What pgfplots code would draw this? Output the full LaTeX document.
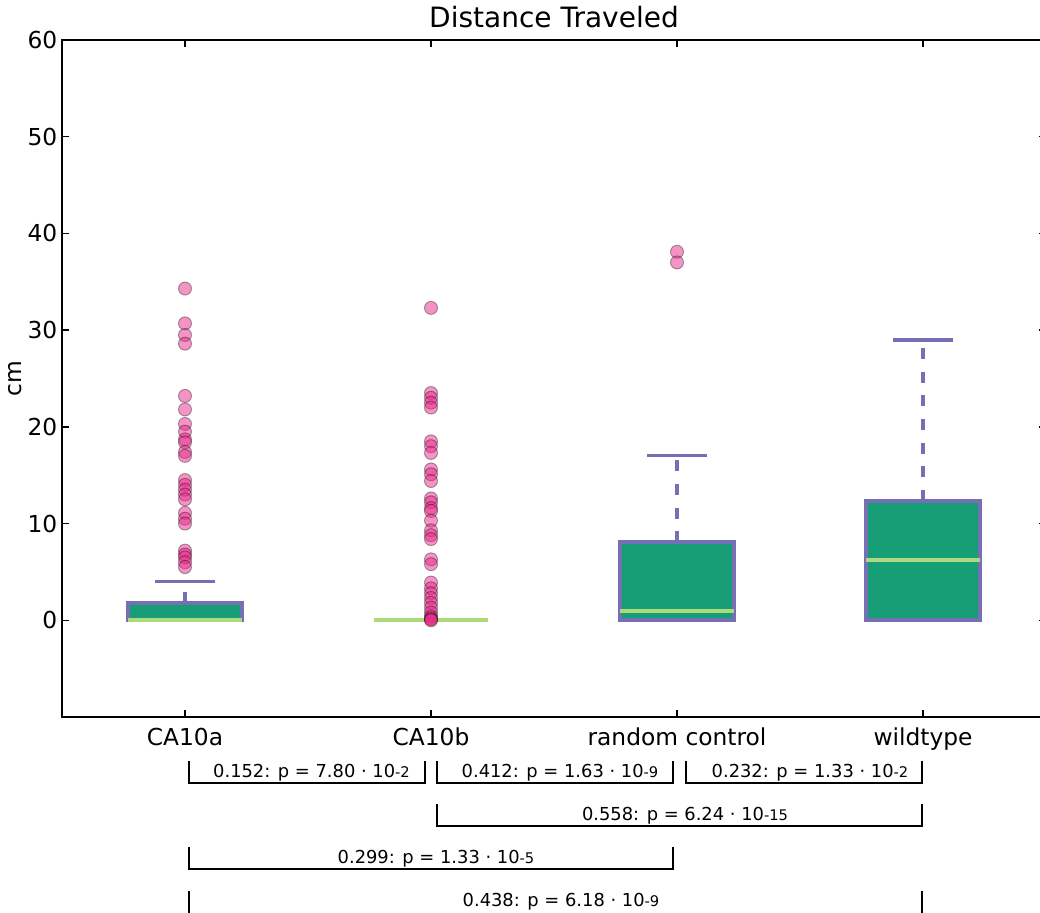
\documentclass[border=0pt]{standalone}
\usepackage{fontspec}
\setmainfont{DejaVu Sans}
\usepackage{pgfplots}
\pgfplotsset{compat=1.18}
\usepgfplotslibrary{statistics}
\definecolor{bgreen}{RGB}{24,158,119}
\definecolor{bpurple}{RGB}{117,112,179}
\definecolor{lgreen}{RGB}{172,218,125}
\definecolor{opink}{RGB}{231,41,138}

\pgfplotsset{
  mybox/.style={
    boxplot/draw direction=y,
    boxplot/box extend=0.46,
    boxplot/whisker extend=0.24,
    boxplot/every box/.style={draw=bpurple, fill=bgreen, line width=3pt},
    boxplot/every median/.style={draw=lgreen, line width=2.8pt},
    boxplot/draw/lower whisker/.code={},
    boxplot/draw/upper whisker/.code={%
      \draw[bpurple, line width=2.8pt, dash pattern=on 8.25pt off 9.5pt]
        (boxplot cs:\pgfplotsboxplotvalue{upper quartile}) --
        (boxplot cs:\pgfplotsboxplotvalue{upper whisker});
      \draw[bpurple, line width=2.8pt]
        (boxplot whisker cs:\pgfplotsboxplotvalue{upper whisker},0) --
        (boxplot whisker cs:\pgfplotsboxplotvalue{upper whisker},1);
    },
    mark=*, mark size=4.9pt,
    mark options={solid, fill=opink, fill opacity=0.5, draw=black, draw opacity=0.35, line width=0.7pt},
  }
}

\begin{document}
\begin{tikzpicture}
\begin{axis}[
  at={(46.5pt,-537.75pt)}, anchor=south west,
  width=738pt, height=507.75pt, scale only axis,
  xmin=0.5, xmax=4.5, ymin=-10, ymax=60,
  ytick={0,10,...,60},
  xtick={1,2,3,4},
  xticklabels={CA10a,CA10b,random control,wildtype},
  tick align=inside, tick pos=both,
  major tick length=5.25pt,
  major tick style={black, line width=1pt},
  axis line style={line width=1.1pt},
  /pgf/number format/assume math mode=true,
  ticklabel style={font=\fontsize{17.5}{20}\selectfont},
  xticklabel style={anchor=base, yshift=-21pt},
  title={Distance Traveled},
  title style={font=\fontsize{21}{24}\selectfont, at={(axis description cs:0.5,1)}, anchor=base, yshift=3pt},
  ylabel={cm},
  ylabel style={font=\fontsize{17.5}{20}\selectfont, at={(axis description cs:-0.048,0.5)}, anchor=center},
  clip=false,
]
\addplot[mybox, boxplot prepared={draw position=1, lower whisker=0, lower quartile=0, median=0, upper quartile=1.8, upper whisker=4.0}]
  table[row sep=\\, y index=0] {v\\ 34.3\\ 30.7\\ 29.5\\ 28.6\\ 23.2\\ 21.8\\ 20.3\\ 19.5\\ 18.7\\ 18.4\\ 17.4\\ 17.0\\ 14.5\\ 14.0\\ 13.5\\ 13.0\\ 12.5\\ 11.1\\ 10.5\\ 10.0\\ 7.2\\ 6.8\\ 6.5\\ 6.0\\ 5.5\\};
\addplot[mybox, boxplot/draw/upper whisker/.code={}, boxplot prepared={draw position=2, lower whisker=0, lower quartile=0, median=0, upper quartile=0, upper whisker=0}]
  table[row sep=\\, y index=0] {v\\ 32.3\\ 23.5\\ 23.0\\ 22.5\\ 22.0\\ 18.5\\ 18.0\\ 17.3\\ 15.6\\ 15.1\\ 14.4\\ 12.6\\ 12.2\\ 11.6\\ 11.3\\ 10.3\\ 9.3\\ 8.8\\ 8.4\\ 6.3\\ 5.8\\ 3.9\\ 3.3\\ 2.8\\ 2.3\\ 1.8\\ 1.3\\ 0.8\\ 0.4\\ 0.2\\ 0.1\\ 0.0\\};
\addplot[mybox, boxplot prepared={draw position=3, lower whisker=0, lower quartile=0, median=0.95, upper quartile=8.05, upper whisker=17.05}]
  table[row sep=\\, y index=0] {v\\ 38.1\\ 37.0\\};
\addplot[mybox, boxplot prepared={draw position=4, lower whisker=0, lower quartile=0, median=6.2, upper quartile=12.35, upper whisker=28.95}]
  coordinates {};
\end{axis}
\begin{scope}[x=0.75pt, y=-0.75pt, line width=1.1pt]
  \tikzset{pv/.style={anchor=base, font=\fontsize{13.4}{15}\selectfont}}
  \newcommand{\ex}[1]{{\fontsize{11}{12}\selectfont #1}}
  % row 1
  \draw (189,761) -- (189,783) -- (425,783) -- (425,761);
  \node[pv] at (311.5,777) {0.152: p = 7.80 · 10\ex{-2}};
  \draw (437,761) -- (437,783) -- (673,783) -- (673,761);
  \node[pv] at (560,777) {0.412: p = 1.63 · 10\ex{-9}};
  \draw (686,761) -- (686,783) -- (922,783) -- (922,761);
  \node[pv] at (810,777) {0.232: p = 1.33 · 10\ex{-2}};
  % row 2
  \draw (437,804) -- (437,826) -- (922,826) -- (922,804);
  \node[pv] at (685,820) {0.558: p = 6.24 · 10\ex{-15}};
  % row 3
  \draw (189,847) -- (189,869) -- (673,869) -- (673,847);
  \node[pv] at (436,863) {0.299: p = 1.33 · 10\ex{-5}};
  % row 4
  \draw (189,891) -- (189,914) -- (922,914) -- (922,891);
  \node[pv] at (561,906) {0.438: p = 6.18 · 10\ex{-9}};
  \pgfresetboundingbox
  \path[use as bounding box] (0,0) rectangle (1040,913);
\end{scope}
\end{tikzpicture}
\end{document}
